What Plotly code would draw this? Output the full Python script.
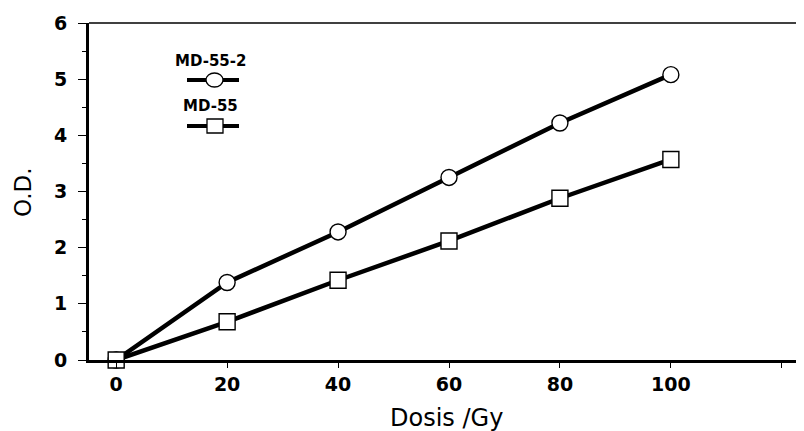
import plotly.graph_objects as go

dose = [0, 20, 40, 60, 80, 100]
md55_2 = [0.0, 1.38, 2.28, 3.25, 4.22, 5.08]
md55 = [0.0, 0.68, 1.42, 2.12, 2.88, 3.57]
x_ticks = [0, 20, 40, 60, 80, 100, 120]
x_labels = ["0", "20", "40", "60", "80", "100", ""]
y_ticks = [0, 1, 2, 3, 4, 5, 6]

# page body has an 8px margin; figure is sized/placed to compensate
OFF = 8
W, H = 804 - OFF, 431 - OFF
L, R, T = 89 - OFF, 0, 23 - OFF
B = H - (360 - OFF)
PW, PH = W - L - R, H - T - B

def px(x):
    return (x - OFF - L) / PW

def py(y):
    return (H - B - (y - OFF)) / PH

fig = go.Figure()
fig.add_trace(go.Scatter(x=dose, y=md55_2, mode="lines+markers", name="MD-55-2",
                         line=dict(color="black", width=4.5),
                         marker=dict(symbol="circle", size=16, color="white",
                                     line=dict(color="black", width=1.4)),
                         cliponaxis=False))
fig.add_trace(go.Scatter(x=dose, y=md55, mode="lines+markers", name="MD-55",
                         line=dict(color="black", width=4.5),
                         marker=dict(symbol="square", size=16, color="white",
                                     line=dict(color="black", width=1.4)),
                         cliponaxis=False))

font_tick = dict(family="DejaVu Sans", size=19, color="black", weight="bold")

fig.update_layout(
    width=W, height=H,
    margin=dict(l=L, r=R, t=T, b=B),
    plot_bgcolor="white", paper_bgcolor="white",
    showlegend=False,
    xaxis=dict(range=[-4.9, 124], tickvals=x_ticks, ticktext=x_labels,
               ticks="outside", ticklen=5, tickwidth=1, tickcolor="black",
               showline=True, linewidth=3, linecolor="black", ticklabelstandoff=0,
               showgrid=False, zeroline=False, tickfont=font_tick, automargin=False),
    yaxis=dict(range=[0, 6], tickvals=y_ticks, ticks="outside", ticklen=8, tickwidth=1,
               tickcolor="black", showline=True, linewidth=3, linecolor="black",
               showgrid=False, zeroline=False, tickfont=font_tick, automargin=False,
               ticklabelstandoff=7,
               minor=dict(dtick=0.5, ticks="outside", ticklen=4, tickcolor="black", showgrid=False)),
)

# axis titles
fig.add_annotation(text="Dosis /Gy", xref="paper", yref="paper", x=px(446), y=py(418),
                   xanchor="center", yanchor="middle",
                   showarrow=False, font=dict(family="DejaVu Sans", size=24, color="black"))
fig.add_annotation(text="O.D.", xref="paper", yref="paper", x=px(23), y=py(192), textangle=-90,
                   xanchor="center", yanchor="middle",
                   showarrow=False, font=dict(family="DejaVu Sans", size=23, color="black"))

# top border line
fig.add_shape(type="line", xref="paper", yref="paper", x0=0, x1=1, y0=1, y1=1,
              line=dict(color="black", width=1.5))

# legend (text above sample)
leg_items = [("MD-55-2", "circle", 61, 80), ("MD-55", "square", 106, 126)]
for name, sym, ty, ly in leg_items:
    fig.add_annotation(text="<b>" + name + "</b>", xref="paper", yref="paper",
                       x=px(210), y=py(ty), xanchor="center", yanchor="middle", showarrow=False,
                       font=dict(family="DejaVu Sans", size=15, color="black"))
    fig.add_shape(type="line", xref="paper", yref="paper", x0=px(187), x1=px(239),
                  y0=py(ly), y1=py(ly), line=dict(color="black", width=4))
    if sym == "circle":
        fig.add_shape(type="circle", xref="paper", yref="paper", x0=px(206), x1=px(223),
                      y0=py(ly + 7), y1=py(ly - 7), fillcolor="white",
                      line=dict(color="black", width=1.3))
    else:
        fig.add_shape(type="rect", xref="paper", yref="paper", x0=px(207), x1=px(223),
                      y0=py(ly + 7), y1=py(ly - 7), fillcolor="white",
                      line=dict(color="black", width=1.3))

fig.write_html("out.html")
